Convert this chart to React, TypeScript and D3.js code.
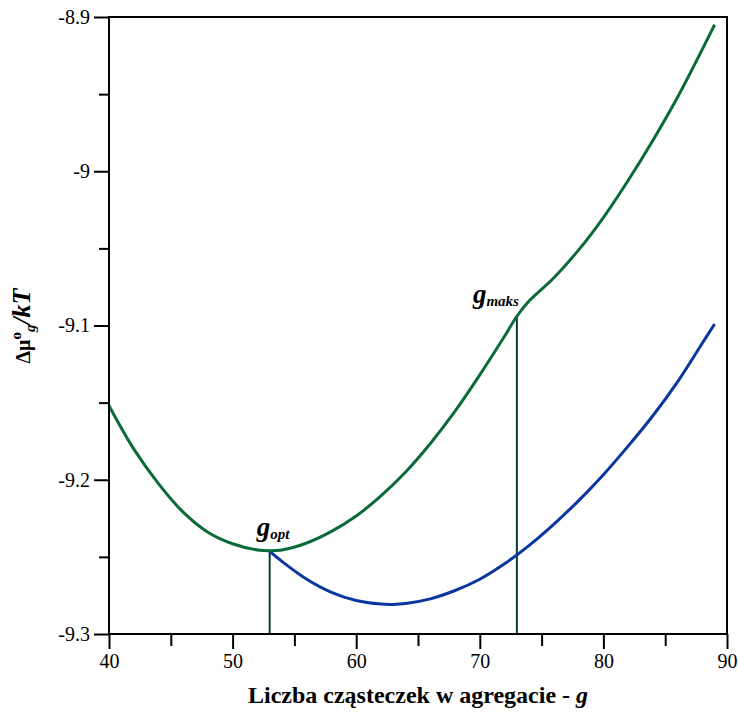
import React, { useRef, useEffect } from "react";
import * as d3 from "d3";

const WIDTH = 738;
const HEIGHT = 718;
const margin = { top: 17, right: 11, bottom: 84, left: 109 };
const FONT = "Liberation Serif";

// green curve (upper), g and value
const greenG = [40, 42, 44, 46, 48, 50, 52, 53, 54, 56, 58, 60, 62, 64, 66, 68, 70, 72, 73, 74, 76, 78, 80, 82, 84, 86, 88, 89];
const greenValues = [
  -9.152, -9.18, -9.2025, -9.221, -9.234, -9.2415, -9.2455, -9.246, -9.2455, -9.241,
  -9.2335, -9.2235, -9.2105, -9.195, -9.1765, -9.1555, -9.132, -9.107, -9.094, -9.084,
  -9.069, -9.051, -9.03, -9.006, -8.98, -8.952, -8.921, -8.905,
];

// blue curve (lower), starts at g_opt
const blueG = [53, 54, 56, 58, 60, 62, 63, 64, 66, 68, 70, 72, 74, 76, 78, 80, 82, 84, 86, 88, 89];
const blueValues = [
  -9.2465, -9.253, -9.2645, -9.273, -9.2783, -9.2806, -9.2808, -9.2802, -9.2772, -9.2718,
  -9.2645, -9.2545, -9.2425, -9.2287, -9.2135, -9.1967, -9.1782, -9.1585, -9.1365, -9.1115, -9.099,
];

const xTicks = [40, 50, 60, 70, 80, 90];
const xMinorTicks = [45, 55, 65, 75, 85];
const yTicks = [-8.9, -9, -9.1, -9.2, -9.3];
const yMinorTicks = [-8.95, -9.05, -9.15, -9.25];

const gOpt = 53;
const gMaks = 73;

const serif = { fontFamily: FONT };

const App = () => {
  const xAxisRef = useRef<SVGGElement>(null),
    xMinorRef = useRef<SVGGElement>(null),
    yAxisRef = useRef<SVGGElement>(null),
    yMinorRef = useRef<SVGGElement>(null);

  const innerW = WIDTH - margin.left - margin.right;
  const innerH = HEIGHT - margin.top - margin.bottom;

  const x = d3.scaleLinear().domain([40, 90]).range([0, innerW]);
  const y = d3.scaleLinear().domain([-9.3, -8.9]).range([innerH, 0]);

  const line = d3
    .line<[number, number]>()
    .x(d => x(d[0]))
    .y(d => y(d[1]))
    .curve(d3.curveCatmullRom.alpha(0.5));

  const green = greenG.map((g, i) => [g, greenValues[i]] as [number, number]);
  const blue = blueG.map((g, i) => [g, blueValues[i]] as [number, number]);

  const optValue = greenValues[greenG.indexOf(gOpt)];
  const maksValue = greenValues[greenG.indexOf(gMaks)];

  useEffect(() => {
    const style = (sel: any) => {
      sel.attr("font-family", null).attr("font-size", null);
      sel.select(".domain").remove();
      sel.selectAll("line").attr("stroke", "#000").attr("stroke-width", 2);
      sel.selectAll("text").attr("fill", "#000").style("font-family", FONT).style("font-size", "20px");
    };
    d3.select(xAxisRef.current)
      .call(d3.axisBottom(x).tickValues(xTicks).tickSize(15).tickPadding(5).tickFormat(d => String(d)))
      .call(style);
    d3.select(xMinorRef.current)
      .call(d3.axisBottom(x).tickValues(xMinorTicks).tickSize(12).tickFormat(() => ""))
      .call(style);
    d3.select(yAxisRef.current)
      .call(d3.axisLeft(y).tickValues(yTicks).tickSize(15).tickPadding(4).tickFormat(d => String(+(+d).toFixed(2))))
      .call(style);
    d3.select(yMinorRef.current)
      .call(d3.axisLeft(y).tickValues(yMinorTicks).tickSize(10).tickFormat(() => ""))
      .call(style);
  });

  return (
    <svg width={WIDTH} height={HEIGHT} style={{ position: "absolute", left: 0, top: 0 }}>
      <g transform={`translate(${margin.left}, ${margin.top})`}>
        <g ref={xAxisRef} transform={`translate(0, ${innerH})`} />
        <g ref={xMinorRef} transform={`translate(0, ${innerH})`} />
        <g ref={yAxisRef} />
        <g ref={yMinorRef} />

        <line x1={x(gOpt)} x2={x(gOpt)} y1={y(optValue)} y2={innerH} stroke="#0b3b30" strokeWidth={2} />
        <line x1={x(gMaks)} x2={x(gMaks)} y1={y(maksValue)} y2={innerH} stroke="#0b3b30" strokeWidth={2} />

        <path d={line(blue) ?? ""} fill="none" stroke="#0a36a0" strokeWidth={3} />
        <path d={line(green) ?? ""} fill="none" stroke="#0a6a38" strokeWidth={3} />

        <rect x={0} y={0} width={innerW} height={innerH} fill="none" stroke="#000" strokeWidth={2} />

        <text x={x(gOpt) - 13} y={y(optValue) - 15} style={serif} fontWeight="bold" fontStyle="italic" fill="#000">
          <tspan fontSize={27}>g</tspan>
          <tspan fontSize={15} dy={3}>opt</tspan>
        </text>
        <text x={x(gMaks) - 44} y={y(maksValue) - 13} style={serif} fontWeight="bold" fontStyle="italic" fill="#000">
          <tspan fontSize={27}>g</tspan>
          <tspan fontSize={15} dy={3}>maks</tspan>
        </text>
      </g>

      <text x={418} y={703} textAnchor="middle" style={serif} fontWeight="bold" fontSize={24} fill="#000">
        Liczba cząsteczek w agregacie - <tspan fontStyle="italic">g</tspan>
      </text>

      <text transform="translate(30, 326) rotate(-90)" textAnchor="middle" style={serif} fontWeight="bold" fontSize={26} fill="#000">
        <tspan fontSize={20}>Δμ</tspan>
        <tspan fontSize={15} dy={-9}>o</tspan>
        <tspan fontSize={15} dy={14} fontStyle="italic">g</tspan>
        <tspan dy={-5} fontStyle="italic">/kT</tspan>
      </text>
    </svg>
  );
};

export default App;
